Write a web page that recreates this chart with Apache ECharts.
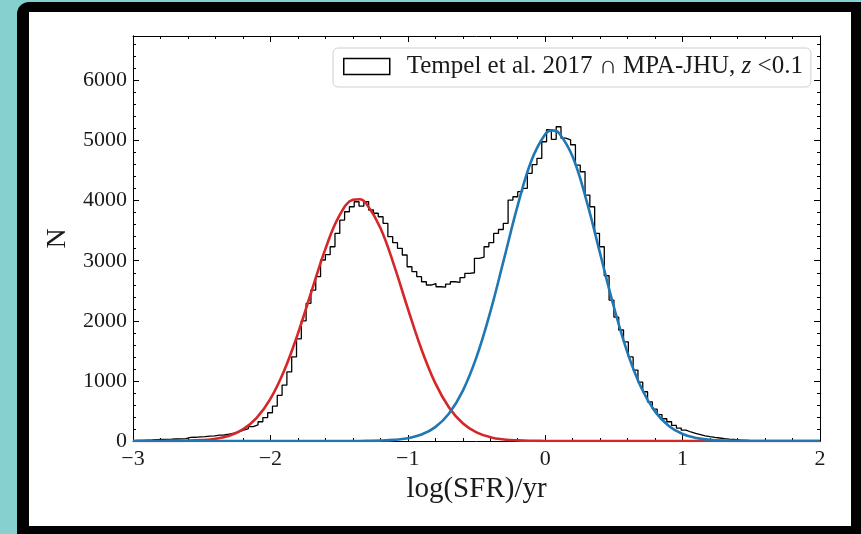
<!DOCTYPE html>
<html><head><meta charset="utf-8">
<script src="https://cdn.jsdelivr.net/npm/echarts@6/dist/echarts.min.js"></script>
<style>
html,body{margin:0;padding:0;width:861px;height:534px;overflow:hidden;background:#86d1d0;}
#frame{position:absolute;left:17px;top:2px;width:860px;height:540px;background:#000;border-top-left-radius:12px;}
#panel{position:absolute;left:29px;top:12px;width:822px;height:514px;background:#fff;}
#chart{position:absolute;left:0;top:0;width:861px;height:534px;}
</style></head><body>
<div id="frame"></div><div id="panel"></div><div id="chart"></div>
<script>
// ---- data ----
const binStart = -3.0;
const binWidth = 0.035;
const counts = [
  10,12,15,18,22,25,28,30,33,35,
  40,60,62,68,72,80,85,98,100,115,
  130,150,180,205,240,270,320,390,470,580,
  760,930,1150,1400,1700,2000,2291,2512,2734,3012,
  3100,3233,3455,3677,3815,3898,3982,3910,3982,3844,
  3790,3732,3622,3400,3300,3206,3095,2900,2820,2734,
  2650,2596,2620,2567,2560,2610,2650,2640,2720,2790,
  2800,3040,3060,3233,3300,3455,3520,3622,4010,4065,
  4150,4205,4454,4600,4704,4980,5180,5020,5230,5040,
  5010,4930,4592,4481,4093,3898,3456,3233,2750,2346,
  2060,1847,1650,1400,1180,980,820,650,530,440,
  370,320,260,215,180,150,125,105,85,72,
  60,50,40,32,25,18,12,8,5,3,
  1,0
];
const fitX = [-3.0,-2.9,-2.8,-2.7,-2.6,-2.5,-2.4,-2.3,-2.2,-2.1,-2.0,-1.9,-1.8,-1.7,-1.6,-1.5,
  -1.4,-1.35,-1.3,-1.2,-1.1,-1.0,-0.9,-0.8,-0.7,-0.6,-0.5,-0.4,-0.3,-0.2,-0.1,
  0.0,0.05,0.1,0.2,0.3,0.4,0.5,0.6,0.7,0.8,0.9,1.0,1.1,1.2,1.3,1.4,1.5,1.6,1.7,1.8,1.9,2.0];
const redFit = [0,0,1,2,5,15,38,89,194,386,702,1170,1786,2496,3193,3741,
  4014,4023,3944,3549,2924,2205,1523,964,559,296,144,64,26,10,3,
  1,0,0,0,0,0,0,0,0,0,0,0,0,0,0,0,0,0,0,0,0,0];
const blueFit = [0,0,0,0,0,0,0,0,0,0,0,0,0,0,0,0,
  1,1,2,6,18,46,107,231,458,835,1396,2144,3026,3922,4669,
  5104,5169,5126,4729,4006,3117,2230,1463,883,489,249,116,50,20,7,2,1,0,0,0,0,0];
const xTickValues = [-3,-2,-1,0,1,2];
const yTickValues = [0,1000,2000,3000,4000,5000,6000];
const histName = 'Tempel et al. 2017 ∩ MPA-JHU, z <0.1';
const yMax = 6740;
</script>
<script>
const histLine = [];
counts.forEach((c, i) => {
  const lo = binStart + i * binWidth, hi = binStart + (i + 1) * binWidth;
  if (i === 0) histLine.push([lo, 0]);
  histLine.push([lo, c]);
  histLine.push([hi, c]);
  if (i === counts.length - 1) histLine.push([hi, 0]);
});

const SERIF = '"Liberation Serif","DejaVu Serif",serif';
const TXT = '#1a1a1a';
const axLine = {show: true, onZero: false, lineStyle: {color: '#000', width: 1}};
const tickStyle = {color: '#000', width: 1};
const fmtX = v => (v < 0 ? '\u2212' + (-v) : String(v));
const fmtY = v => (yTickValues.indexOf(v) >= 0 ? String(v) : '');

function xAx(pos, labels) {
  return {
    type: 'value', position: pos, min: xTickValues[0], max: xTickValues[xTickValues.length - 1], interval: 1,
    axisLine: axLine,
    axisTick: {show: true, inside: true, length: 6, lineStyle: tickStyle},
    minorTick: {show: true, splitNumber: 5, length: 3, lineStyle: tickStyle},
    splitLine: {show: false}, minorSplitLine: {show: false},
    axisLabel: labels ? {show: true, margin: 7, fontFamily: SERIF, fontSize: 22, color: TXT, formatter: fmtX} : {show: false},
    name: labels ? 'log(SFR)/yr' : '', nameLocation: 'middle', nameGap: 31,
    nameTextStyle: {fontFamily: SERIF, fontSize: 29, color: TXT}
  };
}
function yAx(pos, major, labels) {
  return {
    type: 'value', position: pos, min: 0, max: yMax, interval: major ? 1000 : 200,
    axisLine: axLine,
    axisTick: {show: true, inside: true, length: major ? 6 : 3, lineStyle: tickStyle},
    splitLine: {show: false},
    axisLabel: labels ? {show: true, margin: 6, fontFamily: SERIF, fontSize: 22, color: TXT, formatter: fmtY} : {show: false},
    name: labels ? 'N' : '', nameLocation: 'middle', nameGap: 51, nameRotate: 90,
    nameTextStyle: {fontFamily: SERIF, fontSize: 28, color: TXT}
  };
}

const chart = echarts.init(document.getElementById('chart'), null, {renderer: 'canvas'});
chart.setOption({
  animation: false,
  backgroundColor: 'transparent',
  grid: {left: 133, top: 36, width: 687, height: 405, containLabel: false},
  legend: {
    left: 333, top: 48, padding: [6, 8, 8, 10],
    backgroundColor: '#fff', borderColor: '#cfcfcf', borderWidth: 1, borderRadius: 5,
    itemWidth: 46, itemHeight: 16, selectedMode: false,
    data: [{name: histName, icon: 'rect', itemStyle: {color: '#fff', borderColor: '#000', borderWidth: 1.5}}],
    formatter: () => '{t|Tempel et al. 2017 ∩ MPA-JHU, }{i|z}{t| <0.1}',
    textStyle: {
      fontFamily: SERIF, fontSize: 25, color: TXT, padding: [0, 0, 0, 12],
      rich: {
        t: {fontFamily: SERIF, fontSize: 25, color: TXT},
        i: {fontFamily: SERIF, fontSize: 25, color: TXT, fontStyle: 'italic'}
      }
    }
  },
  xAxis: [xAx('bottom', true), xAx('top', false)],
  yAxis: [yAx('left', true, true), yAx('left', false, false), yAx('right', true, false), yAx('right', false, false)],
  series: [
    {type: 'line', name: histName, data: histLine, xAxisIndex: 0, yAxisIndex: 0,
     symbol: 'none', showSymbol: false, silent: true,
     lineStyle: {color: '#000', width: 1.3}, itemStyle: {color: '#000'}, z: 2},
    {type: 'line', name: 'red fit', data: fitX.map((x, i) => [x, redFit[i]]), xAxisIndex: 0, yAxisIndex: 0,
     smooth: 0.4, symbol: 'none', silent: true, lineStyle: {color: '#d62728', width: 2.6}, z: 3},
    {type: 'line', name: 'blue fit', data: fitX.map((x, i) => [x, blueFit[i]]), xAxisIndex: 0, yAxisIndex: 0,
     smooth: 0.4, symbol: 'none', silent: true, lineStyle: {color: '#1f77b4', width: 2.6}, z: 4}
  ]
});
</script>
</body></html>
